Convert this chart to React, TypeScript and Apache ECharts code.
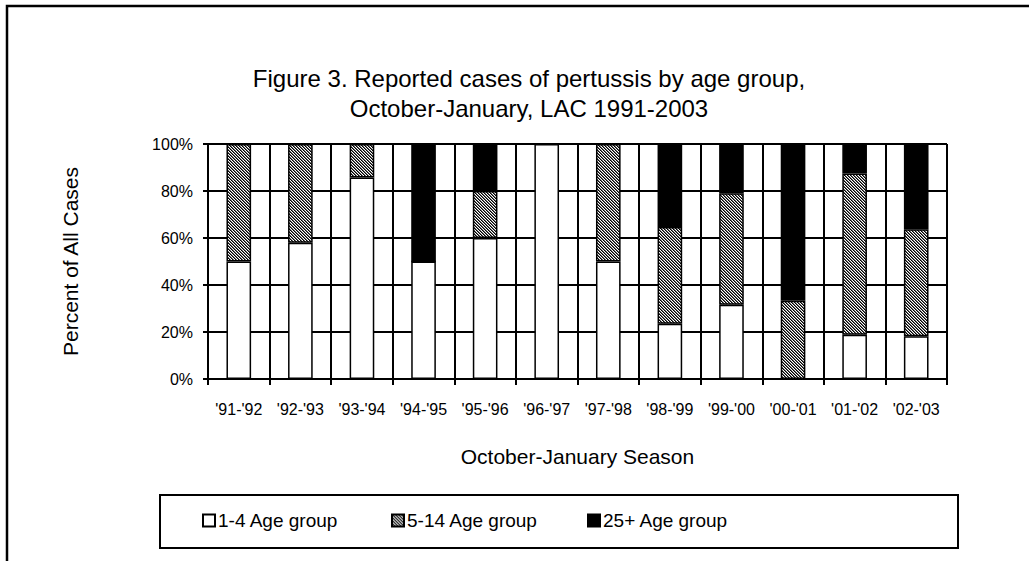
import React, { useEffect, useRef } from "react";
import * as echarts from "echarts";

const seasons = ["'91-'92", "'92-'93", "'93-'94", "'94-'95", "'95-'96", "'96-'97", "'97-'98", "'98-'99", "'99-'00", "'00-'01", "'01-'02", "'02-'03"];
const age1to4 = [50, 58, 85.7, 50, 60, 100, 50, 23.5, 31.6, 0, 18.8, 18.2];
const age5to14 = [50, 42, 14.3, 0, 20, 0, 50, 41.2, 47.4, 33.3, 68.7, 45.5];
const age25plus = [0, 0, 0, 50, 20, 0, 0, 35.3, 21.0, 66.7, 12.5, 36.3];
const yTicks = [0, 20, 40, 60, 80, 100];
const seriesNames = ["1-4 Age group", "5-14 Age group", "25+ Age group"];

const FONT = "'Liberation Sans', Arial, sans-serif";

function makeHatch(): HTMLCanvasElement {
  const n = 3;
  const c = document.createElement("canvas");
  c.width = n;
  c.height = n;
  const ctx = c.getContext("2d")!;
  const shades = ["#000000", "#6a6a6a", "#ffffff"];
  for (let y = 0; y < n; y++) {
    for (let x = 0; x < n; x++) {
      const d = (((x - y) % n) + n) % n;
      ctx.fillStyle = shades[d];
      ctx.fillRect(x, y, 1, 1);
    }
  }
  return c;
}

export default function App() {
  const ref = useRef<HTMLDivElement>(null);
  useEffect(() => {
    if (!ref.current) return;
    const chart = echarts.init(ref.current, null, { renderer: "svg" });
    const hatch = makeHatch();
    const hatchPattern: any = { image: hatch, repeat: "repeat", imageWidth: 3, imageHeight: 3 };
    const border = { borderColor: "#000", borderWidth: 1.5 };
    const legendLefts = [202, 391, 587];
    const legends = seriesNames.map((name, i) => ({
      left: legendLefts[i],
      top: 511,
      padding: 0,
      itemWidth: 12,
      itemHeight: 12,
      icon: "rect",
      textStyle: { fontFamily: FONT, fontSize: 19, color: "#000", padding: [0, 0, 0, -2] },
      data: [name],
    }));
    chart.setOption({
      animation: false,
      backgroundColor: "#fff",
      textStyle: { fontFamily: FONT, color: "#000" },
      title: {
        text: "Figure 3. Reported cases of pertussis by age group,\nOctober-January, LAC 1991-2003",
        left: 524,
        top: 58,
        textAlign: "center",
        textStyle: { fontFamily: FONT, fontSize: 24, fontWeight: "normal", color: "#000", lineHeight: 30 },
      },
      legend: legends,
      grid: { left: 208, right: 82, top: 144, bottom: 182, containLabel: false },
      xAxis: {
        type: "category",
        data: seasons,
        name: "October-January Season",
        nameLocation: "middle",
        nameGap: 67,
        nameTextStyle: { fontFamily: FONT, fontSize: 21, color: "#000" },
        axisLine: { show: true, lineStyle: { color: "#000", width: 2 } },
        axisTick: { show: true, length: 6, lineStyle: { color: "#000", width: 2 } },
        axisLabel: { fontFamily: FONT, fontSize: 16, color: "#000", margin: 22 },
        splitLine: { show: true, lineStyle: { color: "#000", width: 2 } },
      },
      yAxis: {
        type: "value",
        min: 0,
        max: 100,
        interval: 20,
        name: "Percent of All Cases",
        nameLocation: "middle",
        nameGap: 127,
        nameTextStyle: { fontFamily: FONT, fontSize: 21, color: "#000" },
        axisLine: { show: true, lineStyle: { color: "#000", width: 2 } },
        axisTick: { show: true, length: 5, lineStyle: { color: "#000", width: 2 } },
        axisLabel: {
          fontFamily: FONT,
          fontSize: 16,
          color: "#000",
          margin: 15,
          formatter: (v: number) => (yTicks.includes(v) ? v + "%" : ""),
        },
        splitLine: { show: true, lineStyle: { color: "#000", width: 2 } },
      },
      series: [
        {
          name: seriesNames[0],
          type: "bar",
          stack: "all",
          data: age1to4,
          barCategoryGap: "60%",
          itemStyle: { color: "#fff", ...border },
        },
        {
          name: seriesNames[1],
          type: "bar",
          stack: "all",
          data: age5to14,
          barCategoryGap: "60%",
          itemStyle: { color: hatchPattern, ...border },
        },
        {
          name: seriesNames[2],
          type: "bar",
          stack: "all",
          data: age25plus,
          barCategoryGap: "60%",
          itemStyle: { color: "#000", ...border },
        },
      ],
      graphic: [
        {
          type: "polyline",
          shape: { points: [[7, 561], [7, 6], [1029, 6]] },
          style: { stroke: "#000", lineWidth: 2.5, fill: "none" },
          silent: true,
        },
        {
          type: "rect",
          shape: { x: 160, y: 495, width: 798, height: 53 },
          style: { stroke: "#000", lineWidth: 2, fill: "none" },
          silent: true,
          z: -1,
        },
      ],
    });
    return () => chart.dispose();
  }, []);
  return <div ref={ref} style={{ position: "fixed", left: 0, top: 0, width: 1029, height: 561 }} />;
}
